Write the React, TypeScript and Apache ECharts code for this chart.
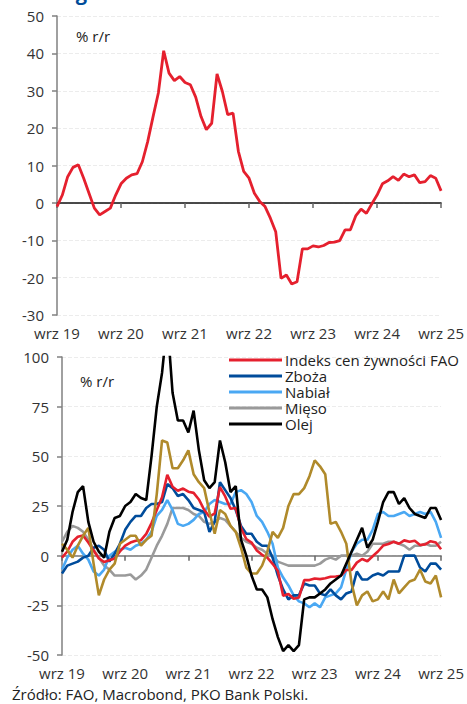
import React, { useEffect, useRef } from "react";
import * as echarts from "echarts";

const monthNames = ["wrz", "paź", "lis", "gru", "sty", "lut", "mar", "kwi", "maj", "cze", "lip", "sie"];
const startYear = 19;
const nMonths = 73;
const categories: string[] = [];
for (let i = 0; i < nMonths; i++) {
  const m = monthNames[i % 12];
  const y = startYear + Math.floor((i + 8) / 12);
  categories.push(m + " " + y);
}

const faoIndex = [-1, 2.1, 7, 9.5, 10.2, 6.6, 2.6, -1.4, -3.2, -2.3, -1.4, 2.1, 5.1, 6.6, 7.5, 7.8, 11, 16.4, 23, 29.4, 40.7, 34.7, 32.7, 33.8, 32.2, 31.6, 28.3, 23.1, 19.6, 21.3, 34.5, 29.8, 23.6, 24, 13.8, 8.4, 6.6, 2.6, 0.4, -1, -4.1, -7.7, -20.2, -19.3, -21.7, -21.1, -12.3, -12.3, -11.5, -11.8, -11.4, -10.6, -10.5, -10.1, -7.2, -7.2, -3.5, -1.7, -2.8, -0.3, 2.1, 5.1, 5.9, 7, 6, 7.7, 7, 7.5, 5.4, 5.7, 7.3, 6.6, 3.2];
const cereals = [-9, -5, -4, -3, -1, 0, 4, 5, 3, -3, 1, 6, 13, 17, 20, 20, 24, 26, 26, 27, 36, 34, 30, 31, 28, 24, 23, 22, 12, 17, 37, 33, 29, 23, 15, 11, 11, 7, 5, 5, -1, -10, -17, -22, -20, -20, -14, -15, -15, -19, -20, -17, -20, -22, -19, -18, -8, -12, -12, -10, -9, -10, -8, -8, -8, 0, 0, 0, -6, -8, -4, -4, -7];
const dairy = [-7, -1, 3, 5, 1, -2, -8, -10, -7, 0, 2, 3, 4, 3, 5, 6, 8, 12, 20, 23, 28, 23, 16, 15, 16, 18, 21, 22, 26, 28, 27, 26, 26, 32, 33, 31, 27, 20, 17, 12, 6, -6, -11, -15, -20, -23, -24, -26, -24, -26, -21, -20, -19, -16, -7, 2, 6, 8, 8, 13, 21, 22, 20, 20, 21, 22, 20, 21, 22, 21, 22, 17, 9];
const meat = [7, 12, 15, 14, 12, 8, 3, -1, -5, -7, -10, -10, -10, -9.5, -12, -10, -7, -1, 5, 10, 16, 24, 24, 24, 23, 21, 20, 17, 16, 17, 19, 18, 15, 12, 9, 7, 6, 4, 3, 1, 0, -3, -4, -5, -5, -5, -5, -5, -5, -4, -2, -1, -2, 0, 0, 0, 1, 0, 2, 6, 6, 6, 7, 7, 6, 5, 3, 5, 5, 6, 5, 5, 7];
const oils = [2, 8, 22, 32, 35, 17, 7, 2, -1, 12, 19, 20, 25, 27, 31, 29, 28, 50, 75, 92, 118, 82, 68, 68, 62, 73, 53, 38, 34, 37, 58, 47, 32, 35, 8, 0, -10, -17, -17, -21, -32, -41, -48, -45, -48, -45, -22, -21, -21, -19, -17, -14, -12, -10, -4, 2, 8, 14, 4, 8, 17, 27, 32, 32, 26, 29, 24, 21, 20, 19, 24, 24, 18];
const sugar = [6, 3, -1, 5, 10, 14, -4, -20, -12, -7, -4, 6, 8, 10, 10, 5, 8, 10, 31, 58, 57, 44, 44, 48, 53, 41, 37, 34, 22, 11, 23, 21, 15, 12, 4, -6, -9, -9, -5, 2, 12, 9, 14, 25, 31, 31, 34, 40, 48, 45, 41, 16, 17, 12, 6, -14, -25, -20, -18, -23, -22, -18, -22, -12, -19, -16, -13, -12, -7, -13, -14, -10, -21];

const legendNames = ["Indeks cen żywności FAO", "Zboża", "Nabiał", "Mięso", "Olej"];
const colors = {
  red: "#e5202e",
  blue: "#004c9b",
  light: "#4aa8f3",
  gray: "#9a9a9a",
  black: "#000000",
  gold: "#b08a2b",
};

const FONT = "Open Sans";
const labelInterval = (i: number) => i % 12 === 0;

function makeXAxes(gridIndex: number, zeroColor: string) {
  return [
    {
      type: "category",
      gridIndex,
      data: categories,
      boundaryGap: false,
      position: "bottom",
      axisLine: { show: false, onZero: false },
      axisTick: { show: false },
      axisLabel: { interval: labelInterval, fontSize: 15, color: "#333", fontFamily: FONT, margin: 10 },
      splitLine: { show: false },
    },
    {
      type: "category",
      gridIndex,
      data: categories,
      boundaryGap: false,
      position: "bottom",
      axisLine: { show: true, onZero: true, lineStyle: { color: zeroColor, width: 1.5 } },
      axisTick: { show: true, interval: labelInterval, length: 5, lineStyle: { color: "#666", width: 1.5 } },
      axisLabel: { show: false },
      splitLine: { show: false },
    },
  ];
}

function makeYAxis(gridIndex: number, min: number, max: number, interval: number) {
  return {
    type: "value",
    gridIndex,
    min,
    max,
    interval,
    axisLine: { show: true, lineStyle: { color: "#808080", width: 1.5 } },
    axisTick: { show: true, length: 5, lineStyle: { color: "#808080", width: 1.5 } },
    axisLabel: { fontSize: 15, color: "#333", fontFamily: FONT, margin: 13 },
    splitLine: { show: true, lineStyle: { color: "#ececec", type: "dashed", width: 1 } },
  };
}

function lineSeries(name: string, data: number[], color: string, xAxisIndex: number, yAxisIndex: number, width = 2.6) {
  return {
    type: "line",
    name,
    data,
    xAxisIndex,
    yAxisIndex,
    symbol: "none",
    showSymbol: false,
    smooth: false,
    lineStyle: { color, width },
    itemStyle: { color },
    clip: true,
  };
}

export default function App() {
  const ref = useRef<HTMLDivElement>(null);
  useEffect(() => {
    if (!ref.current) return;
    const chart = echarts.init(ref.current, undefined, { renderer: "svg" });
    const option: any = {
      animation: false,
      backgroundColor: "#ffffff",
      textStyle: { fontFamily: FONT },
      grid: [
        { left: 57, right: 23, top: 16, height: 299, containLabel: false },
        { left: 62, right: 23, top: 357, height: 298, containLabel: false },
      ],
      xAxis: [...makeXAxes(0, "#111"), ...makeXAxes(1, "#777")],
      yAxis: [makeYAxis(0, -30, 50, 10), makeYAxis(1, -50, 100, 25)],
      legend: {
        data: legendNames,
        orient: "vertical",
        left: 229,
        top: 352,
        itemWidth: 53,
        itemHeight: 17,
        itemGap: 0,
        icon: "path://M0,7 L53,7 L53,10 L0,10 Z",
        textStyle: { fontSize: 15, lineHeight: 16, color: "#222", fontFamily: FONT, padding: [0, 0, 0, -2] },
        padding: 0,
      },
      graphic: [
        {
          type: "text",
          left: 15,
          top: -18,
          style: { text: "według FAO", font: "bold 20px 'Open Sans'", fill: "#004c9a" },
        },
        {
          type: "text",
          left: 76,
          top: 28,
          style: { text: "% r/r", font: "15px 'Open Sans'", fill: "#222" },
        },
        {
          type: "text",
          left: 80,
          top: 373,
          style: { text: "% r/r", font: "15px 'Open Sans'", fill: "#222" },
        },
        {
          type: "text",
          left: 12,
          top: 686,
          style: { text: "Źródło: FAO, Macrobond, PKO Bank Polski.", font: "15px 'Open Sans'", fill: "#222" },
        },
      ],
      series: [
        lineSeries("FAO (góra)", faoIndex, colors.red, 0, 0, 2.8),
        lineSeries("Mięso", meat, colors.gray, 2, 1),
        lineSeries("Nabiał", dairy, colors.light, 2, 1),
        lineSeries("Zboża", cereals, colors.blue, 2, 1),
        lineSeries("Indeks cen żywności FAO", faoIndex, colors.red, 2, 1),
        lineSeries("Cukier", sugar, colors.gold, 2, 1),
        lineSeries("Olej", oils, colors.black, 2, 1),
      ],
    };
    chart.setOption(option);
    return () => chart.dispose();
  }, []);
  return (
    <div
      ref={ref}
      style={{ position: "fixed", left: 0, top: 0, width: 467, height: 704, background: "#fff" }}
    />
  );
}
